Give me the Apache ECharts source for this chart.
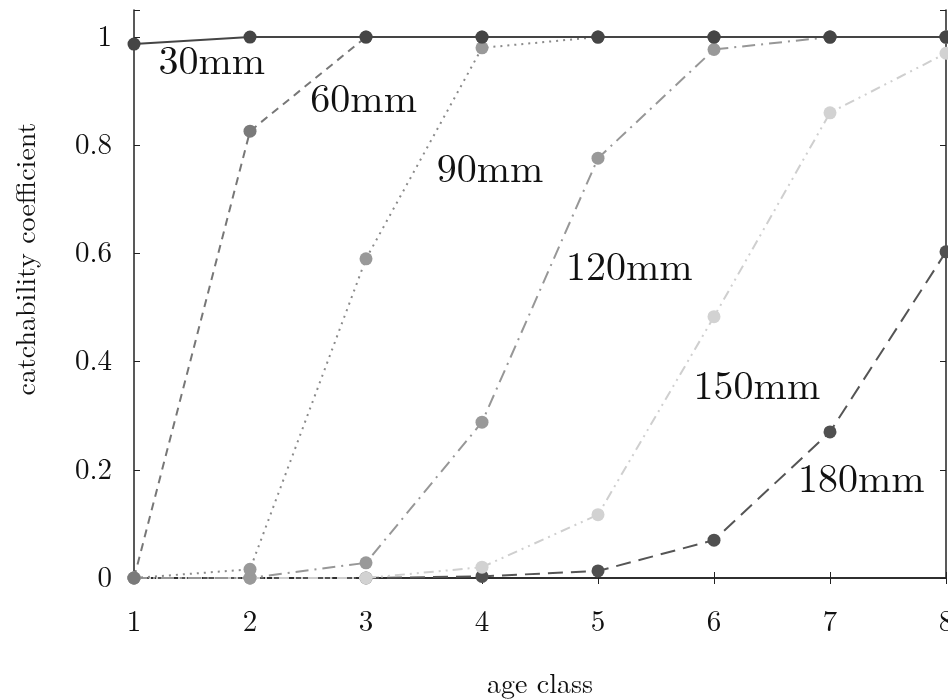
<!DOCTYPE html>
<html><head><meta charset="utf-8">
<script src="https://cdn.jsdelivr.net/npm/echarts@6/dist/echarts.min.js"></script>
<style>html,body{margin:0;padding:0;background:#fff}#c{width:948px;height:700px}</style>
</head><body><div id="c"></div>
<script>
var ageClasses = [1, 2, 3, 4, 5, 6, 7, 8];
var seriesNames = ['30mm', '60mm', '90mm', '120mm', '150mm', '180mm'];
var q30  = [0.987, 1, 1, 1, 1, 1, 1, 1];
var q60  = [0, 0.826, 1, 1, 1, 1, 1, 1];
var q90  = [0, 0.016, 0.59, 0.98, 1, 1, 1, 1];
var q120 = [0, 0, 0.028, 0.288, 0.776, 0.977, 1, 1];
var q150 = [0, 0, 0, 0.02, 0.117, 0.483, 0.86, 0.97];
var q180 = [0, 0, 0, 0.003, 0.013, 0.07, 0.27, 0.603];
var yTicks = [0, 0.2, 0.4, 0.6, 0.8, 1];
// label anchor positions in data units (age class, coefficient)
var labelX = [1.67, 2.98, 4.07, 5.27, 6.37, 7.27];
var labelY = [0.954, 0.884, 0.754, 0.573, 0.353, 0.181];

var allValues = [q30, q60, q90, q120, q150, q180];
var lineColors = ['#454545', '#777777', '#8a8a8a', '#979797', '#cfcfcf', '#555555'];
var dotColors  = ['#454545', '#7a7a7a', '#999999', '#999999', '#d2d2d2', '#505050'];
var dashes = ['solid', [8, 6], [2, 5], [13, 6, 2, 6], [10, 5, 2, 5, 2, 5], [15, 8]];
var serif = '"Latin Modern Roman","Liberation Serif","DejaVu Serif",serif';

var series = allValues.map(function (vals, i) {
  return {
    name: seriesNames[i],
    type: 'line',
    data: ageClasses.map(function (a, k) { return [a, vals[k]]; }),
    symbol: 'circle',
    symbolSize: 13,
    lineStyle: { color: lineColors[i], width: 2, type: dashes[i] },
    itemStyle: { color: dotColors[i] },
    z: 10 - i,
    markPoint: {
      symbol: 'circle', symbolSize: 1,
      itemStyle: { color: 'rgba(0,0,0,0)' },
      label: { show: true, position: 'inside', formatter: seriesNames[i],
               color: '#111', fontFamily: serif, fontSize: 40 },
      data: [{ coord: [labelX[i], labelY[i]] }]
    }
  };
});

var chart = echarts.init(document.getElementById('c'), null, { renderer: 'canvas' });
var axisLineStyle = { show: true, lineStyle: { color: '#222', width: 1.5 } };
chart.setOption({
  backgroundColor: '#fff',
  animation: false,
  grid: { left: 134, right: 2, top: 10, bottom: 122, outerBoundsMode: 'none', containLabel: false },
  graphic: [{
    type: 'text', x: 26, y: 259, rotation: Math.PI / 2,
    style: { text: 'catchability coefficient', fill: '#111', font: '28px ' + serif,
             textAlign: 'center', textVerticalAlign: 'middle' }
  }],
  xAxis: [{
    type: 'value', min: 1, max: 8, interval: 1,
    axisLine: axisLineStyle,
    axisTick: { show: true, inside: true, length: 6, lineStyle: { color: '#222' } },
    axisLabel: { color: '#111', fontFamily: serif, fontSize: 29, margin: 30 },
    splitLine: { show: false },
    name: 'age class', nameLocation: 'middle', nameGap: 92,
    nameTextStyle: { color: '#111', fontFamily: serif, fontSize: 28 }
  }, {
    type: 'value', min: 1, max: 8, interval: 1, position: 'top',
    axisLine: axisLineStyle,
    axisTick: { show: true, inside: true, length: 6, lineStyle: { color: '#222' } },
    axisLabel: { show: false }, splitLine: { show: false }
  }],
  yAxis: [{
    type: 'value', min: 0, max: 1.05, interval: 0.2,
    axisLine: axisLineStyle,
    axisTick: { show: true, inside: true, length: 6, lineStyle: { color: '#222' } },
    axisLabel: { color: '#111', fontFamily: serif, fontSize: 29, margin: 22,
      formatter: function (v) { return yTicks.indexOf(Math.round(v * 10) / 10) >= 0 ? String(Math.round(v * 10) / 10) : ''; } },
    splitLine: { show: false }
  }, {
    type: 'value', min: 0, max: 1.05, interval: 0.2, position: 'right',
    axisLine: axisLineStyle,
    axisTick: { show: true, inside: true, length: 6, lineStyle: { color: '#222' } },
    axisLabel: { show: false }, splitLine: { show: false }
  }],
  series: series
});
</script></body></html>
